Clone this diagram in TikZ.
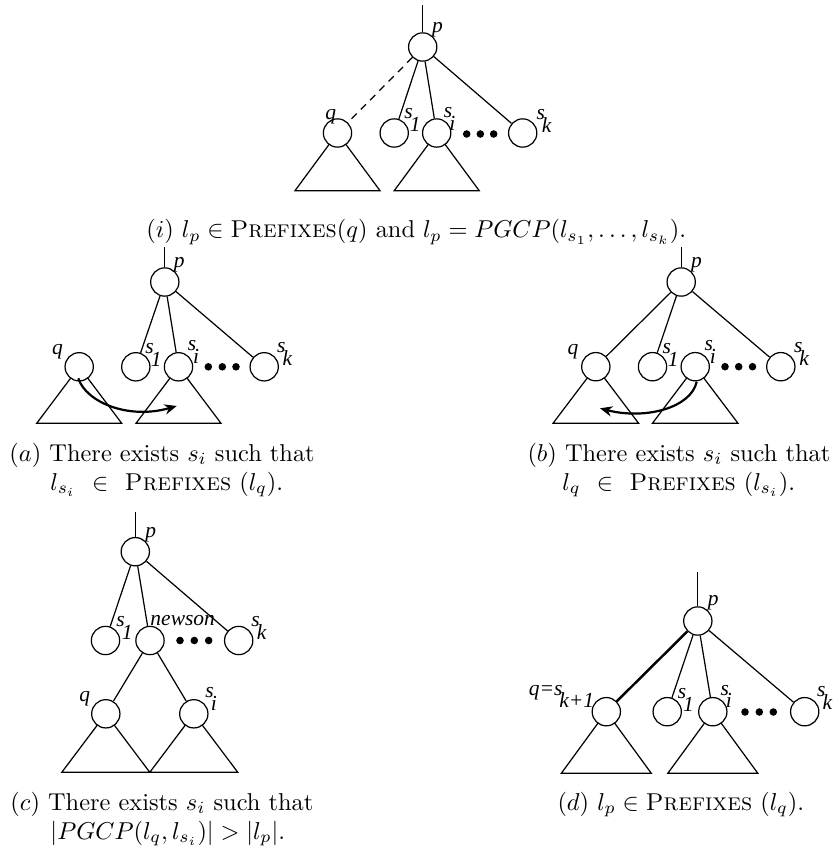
\documentclass[tikz,border=0pt]{standalone}
\usepackage{fontspec}
\usetikzlibrary{arrows.meta}
\newfontfamily\figfont{Liberation Serif}
\newcommand{\subl}[2]{#1\kern-1.2pt\raisebox{-5.3pt}{#2}}
\newcommand{\pref}{{\scshape\addfontfeature{LetterSpace=4}Prefixes}}
\begin{document}
\begin{tikzpicture}[x=0.41pt,y=-0.41pt,
  vert/.style={circle,draw,fill=white,minimum size=11.6pt,inner sep=0pt,line width=0.5pt},
  edge/.style={line width=0.5pt},
  boldedge/.style={line width=1pt},
  tri/.style={line width=0.5pt,line join=miter},
  dotn/.style={circle,fill,inner sep=0pt,minimum size=3.1pt},
  tl/.style={font=\figfont\itshape\fontsize{8.8}{10}\selectfont,inner sep=0pt,anchor=base west},
  captxt/.style={inner sep=0pt,anchor=base west},
  move/.style={-{Stealth[length=5pt,width=4.2pt]},line width=0.9pt}
]
\useasboundingbox (0,0) rectangle (834,855);

% ---------------- (i) ----------------
\coordinate (ip) at (422.7,47);
\coordinate (iq) at (337.5,133);
\coordinate (is1) at (394.2,133);
\coordinate (isi) at (436.7,133);
\coordinate (isk) at (522.7,133);
\coordinate (itop) at (422.7,5);
\draw[tri] (iq) -- ++(-42.5,57.7) -- ++(85,0) -- cycle;
\draw[tri] (isi) -- ++(-42.5,57.7) -- ++(85,0) -- cycle;
\node[vert] (nip) at (ip) {};
\node[vert] (niq) at (iq) {};
\node[vert] (nis1) at (is1) {};
\node[vert] (nisi) at (isi) {};
\node[vert] (nisk) at (isk) {};
\draw[edge] (itop) -- (nip);
\draw[edge,dash pattern=on 3pt off 2.4pt] (nip) -- (niq);
\draw[edge] (nip) -- (nis1);
\draw[edge] (nip) -- (nisi);
\draw[edge] (nip) -- (nisk);
\node[dotn] (id1) at (466.7,134) {};
\node[dotn] (id2) at (480.3,134) {};
\node[dotn] (id3) at (493.7,134) {};
\node[tl] (ilp) at (431.7,33) {p};
\node[tl] (ilq) at (325,119.5) {q};
\node[tl] (ils1) at (404,119) {\subl{s}{1}};
\node[tl] (ilsi) at (443.5,117.3) {\subl{s}{i}};
\node[tl] (ilsk) at (536,119.3) {\subl{s}{k}};
\node[captxt] (icap) at (146,238) {$(i)$ $l_p \in{}$\pref$(q)$ and $l_p = PGCP(l_{s_1},\ldots,l_{s_k})$.};

% ---------------- (a) ----------------
\coordinate (ap) at (164.8,282);
\coordinate (aq) at (79.2,366.8);
\coordinate (as1) at (135.8,366.8);
\coordinate (asi) at (178.5,366.8);
\coordinate (ask) at (264.2,366.8);
\coordinate (atop) at (164.8,247);
\draw[tri] (aq) -- ++(-42.5,56.5) -- ++(85,0) -- cycle;
\draw[tri] (asi) -- ++(-42.5,56.5) -- ++(85,0) -- cycle;
\node[vert] (nap) at (ap) {};
\node[vert] (naq) at (aq) {};
\node[vert] (nas1) at (as1) {};
\node[vert] (nasi) at (asi) {};
\node[vert] (nask) at (ask) {};
\draw[edge] (atop) -- (nap);
\draw[edge] (nap) -- (nas1);
\draw[edge] (nap) -- (nasi);
\draw[edge] (nap) -- (nask);
\node[dotn] (ad1) at (208.3,366.8) {};
\node[dotn] (ad2) at (222.3,366.8) {};
\node[dotn] (ad3) at (236,366.8) {};
\node[tl] (alp) at (173.3,267.5) {p};
\node[tl] (alq) at (51.7,354) {q};
\node[tl] (als1) at (145,353.3) {\subl{s}{1}};
\node[tl] (alsi) at (187.3,350.5) {\subl{s}{i}};
\node[tl] (alsk) at (276.7,352.7) {\subl{s}{k}};
\coordinate (aas) at (78.3,378.3);
\coordinate (aae) at (176.7,406);
\draw[move] (aas) .. controls (86,402) and (128,420) .. (aae);
\node[captxt] (acap1) at (9,461) {$(a)$ There exists $s_i$ such that};
\node[captxt] (acap2) at (50,490) {$l_{s_i}$ \ $\in$ \ \pref{} $(l_q)$.};

% ---------------- (b) ----------------
\coordinate (bp) at (681.2,282);
\coordinate (bq) at (595.8,366.7);
\coordinate (bs1) at (652.5,366.7);
\coordinate (bsi) at (695.2,366.7);
\coordinate (bsk) at (780.8,366.7);
\coordinate (btop) at (681.2,247);
\draw[tri] (bq) -- ++(-42.8,56.6) -- ++(85.6,0) -- cycle;
\draw[tri] (bsi) -- ++(-42.8,56.6) -- ++(85.6,0) -- cycle;
\node[vert] (nbp) at (bp) {};
\node[vert] (nbq) at (bq) {};
\node[vert] (nbs1) at (bs1) {};
\node[vert] (nbsi) at (bsi) {};
\node[vert] (nbsk) at (bsk) {};
\draw[edge] (btop) -- (nbp);
\draw[edge] (nbp) -- (nbq);
\draw[edge] (nbp) -- (nbs1);
\draw[edge] (nbp) -- (nbsk);
\node[dotn] (bd1) at (725,366.7) {};
\node[dotn] (bd2) at (738.7,366.7) {};
\node[dotn] (bd3) at (752.5,366.7) {};
\node[tl] (blp) at (690.5,267.5) {p};
\node[tl] (blq) at (567,354) {q};
\node[tl] (bls1) at (662,353.3) {\subl{s}{1}};
\node[tl] (blsi) at (704,350.5) {\subl{s}{i}};
\node[tl] (blsk) at (793.5,352.7) {\subl{s}{k}};
\coordinate (bas) at (696.7,381.7);
\coordinate (bae) at (600,408.3);
\draw[move] (bas) .. controls (691,408) and (645,420) .. (bae);
\node[captxt] (bcap1) at (527,461) {$(b)$ There exists $s_i$ such that};
\node[captxt] (bcap2) at (562,490) {$l_q$ \ $\in$ \ \pref{} $(l_{s_i})$.};

% ---------------- (c) ----------------
\coordinate (cp) at (135.3,551.7);
\coordinate (cs1) at (105.5,640.5);
\coordinate (cn) at (150,640.5);
\coordinate (csk) at (238.7,640.5);
\coordinate (cq) at (105.8,713.8);
\coordinate (csi) at (193.8,713.8);
\coordinate (ctop) at (135.3,512);
\draw[tri] (cq) -- ++(-44,58.5) -- ++(88,0) -- cycle;
\draw[tri] (csi) -- ++(-44,58.5) -- ++(88,0) -- cycle;
\node[vert] (ncp) at (cp) {};
\node[vert] (ncs1) at (cs1) {};
\node[vert] (ncn) at (cn) {};
\node[vert] (ncsk) at (csk) {};
\node[vert] (ncq) at (cq) {};
\node[vert] (ncsi) at (csi) {};
\draw[edge] (ctop) -- (ncp);
\draw[edge] (ncp) -- (ncs1);
\draw[edge] (ncp) -- (ncn);
\draw[edge] (ncp) -- (ncsk);
\draw[edge] (ncn) -- (ncq);
\draw[edge] (ncn) -- (ncsi);
\node[dotn] (cd1) at (180,640.5) {};
\node[dotn] (cd2) at (194.3,640.5) {};
\node[dotn] (cd3) at (208.7,640.5) {};
\node[tl] (clp) at (144.8,537) {p};
\node[tl] (cls1) at (116,626.7) {\subl{s}{1}};
\node[tl] (cln) at (150,625) {newson};
\node[tl] (clsk) at (251,626.7) {\subl{s}{k}};
\node[tl] (clq) at (79,701) {q};
\node[tl] (clsi) at (205,697.7) {\subl{s}{i}};
\node[captxt] (ccap1) at (10,810) {$(c)$ There exists $s_i$ such that};
\node[captxt] (ccap2) at (50,839) {$|PGCP(l_q,l_{s_i})| > |l_p|$.};

% ---------------- (d) ----------------
\coordinate (dp) at (697.8,621);
\coordinate (dq) at (606.3,711.7);
\coordinate (ds1) at (667.2,711.7);
\coordinate (dsi) at (712.8,711.7);
\coordinate (dsk) at (804.7,711.7);
\coordinate (dtop) at (697.8,572);
\draw[tri] (dq) -- ++(-45,61.6) -- ++(90,0) -- cycle;
\draw[tri] (dsi) -- ++(-45,61.6) -- ++(90,0) -- cycle;
\node[vert] (ndp) at (dp) {};
\node[vert] (ndq) at (dq) {};
\node[vert] (nds1) at (ds1) {};
\node[vert] (ndsi) at (dsi) {};
\node[vert] (ndsk) at (dsk) {};
\draw[edge] (dtop) -- (ndp);
\draw[boldedge] (ndp) -- (ndq);
\draw[edge] (ndp) -- (nds1);
\draw[edge] (ndp) -- (ndsi);
\draw[edge] (ndp) -- (ndsk);
\node[dotn] (dd1) at (745,712) {};
\node[dotn] (dd2) at (759.3,712) {};
\node[dotn] (dd3) at (773.3,712) {};
\node[tl] (dlp) at (707.3,605.5) {p};
\node[tl] (dlq) at (528.3,695) {q=\subl{s}{k+1}};
\node[tl] (dls1) at (677.3,698.3) {\subl{s}{1}};
\node[tl] (dlsi) at (720,695) {\subl{s}{i}};
\node[tl] (dlsk) at (816.7,696.7) {\subl{s}{k}};
\node[captxt] (dcap) at (557,810) {$(d)$ $l_p \in{}$\pref{} $(l_q)$.};
\end{tikzpicture}
\end{document}
